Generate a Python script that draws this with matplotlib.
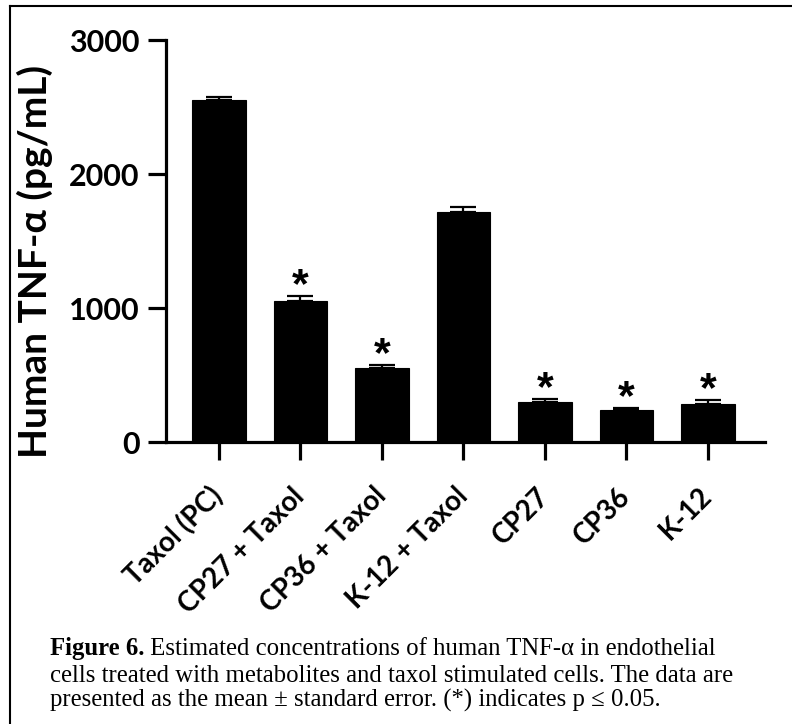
#! /usr/bin/env python3

'''
Bar chart of human TNF-alpha concentrations with error caps and
significance stars, plus the figure caption below it.
'''

import matplotlib
matplotlib.use('Agg')
import matplotlib.pyplot as plt
from matplotlib.lines import Line2D


treatments = ['Taxol (PC)', 'CP27 + Taxol', 'CP36 + Taxol', 'K-12 + Taxol',
              'CP27', 'CP36', 'K-12']
tnf_means = [2552, 1052, 552, 1716, 299, 239, 284]
tnf_errors = [23, 38, 23, 38, 22, 15, 29]
significant = [False, True, True, False, True, True, True]
y_ticks = [0, 1000, 2000, 3000]

caption_bold = 'Figure 6.'
caption_lines = [
    ' Estimated concentrations of human TNF-\u03b1 in endothelial',
    'cells treated with metabolites and taxol stimulated cells. The data are',
    'presented as the mean \u00b1 standard error. (*) indicates p \u2264 0.05.',
]

W, H = 792, 724
fig = plt.figure(figsize=(W / 100, H / 100), dpi=100)
fig.patch.set_facecolor('white')

# axes placed in pixel terms of the reference
ax_left, ax_right, ax_top, ax_bottom = 166, 765, 40, 442
ax = fig.add_axes([ax_left / W, 1 - ax_bottom / H,
                   (ax_right - ax_left) / W, (ax_bottom - ax_top) / H])

x = range(len(treatments))
ax.bar(x, tnf_means, width=0.66, color='black', edgecolor='black',
       linewidth=0.8, zorder=2)
ax.errorbar(x, tnf_means, yerr=[[0] * len(tnf_errors), tnf_errors],
            fmt='none', ecolor='black', elinewidth=1.6, capsize=9.5,
            capthick=1.6, zorder=1)

for xi, mean, err, sig in zip(x, tnf_means, tnf_errors, significant):
    if sig:
        ax.annotate('*', xy=(xi, mean + err), xytext=(0, -1),
                    textcoords='offset points', ha='center', va='baseline',
                    fontsize=31, fontweight='bold', family='Liberation Sans')

ax.set_xlim(-0.65, 6.7)
ax.set_ylim(0, 3000)
ax.set_yticks(y_ticks)
ax.set_yticklabels([str(v) for v in y_ticks], fontsize=22,
                   fontweight='bold', family='Lato')
ax.set_xticks(list(x))
ax.set_xticklabels(treatments, fontsize=20, fontweight='bold',
                   family='Lato', rotation=45, ha='right', va='center',
                   rotation_mode='anchor')

for spine in 'right', 'top':
    ax.spines[spine].set_visible(False)
for spine in 'left', 'bottom':
    ax.spines[spine].set_linewidth(2.3)
ax.tick_params(axis='both', direction='out', length=13, width=2.3,
               colors='black')
ax.tick_params(axis='y', pad=6)
ax.tick_params(axis='x', pad=23)

fig.text(35 / W, 1 - 261 / H, 'Human TNF-\u03b1 (pg/mL)', rotation=90,
         ha='center', va='center', fontsize=28, fontweight='bold',
         family='Lato')

# frame around the figure panel (only top and left visible)
fig.add_artist(Line2D([10 / W, 10 / W], [0, 1 - 6 / H], color='black',
                      linewidth=1.5, transform=fig.transFigure))
fig.add_artist(Line2D([10 / W, 1], [1 - 6 / H, 1 - 6 / H], color='black',
                      linewidth=1.5, transform=fig.transFigure))

# caption
baselines = [655, 682, 707]
cap_x = 50 / W
cap_size = 17.8
t0 = fig.text(cap_x, 1 - baselines[0] / H, caption_bold, fontsize=cap_size,
              fontweight='bold', family='Liberation Serif', va='baseline')
fig.canvas.draw()
bb = t0.get_window_extent(renderer=fig.canvas.get_renderer())
fig.text(bb.x1 / W, 1 - baselines[0] / H, caption_lines[0],
         fontsize=cap_size, family='Liberation Serif', va='baseline')
for line, base in zip(caption_lines[1:], baselines[1:]):
    fig.text(cap_x, 1 - base / H, line, fontsize=cap_size,
             family='Liberation Serif', va='baseline')

fig.savefig('out.png', dpi=100, facecolor='white')
plt.close('all')
